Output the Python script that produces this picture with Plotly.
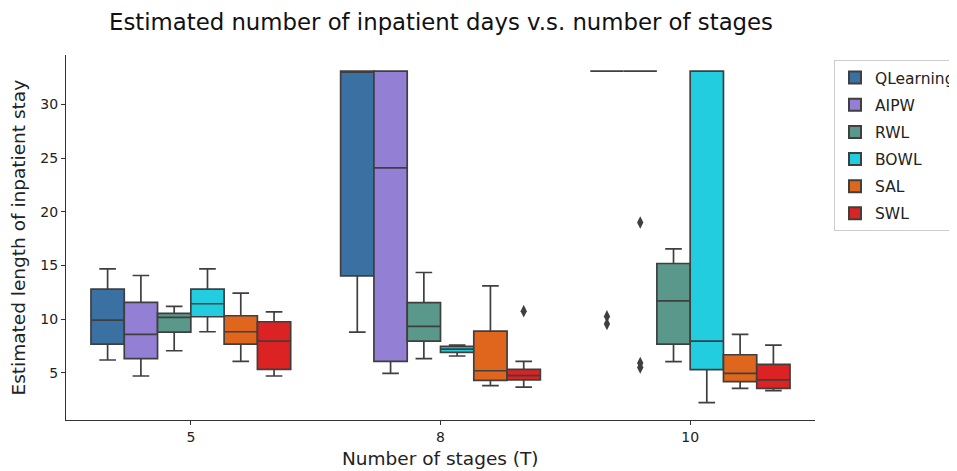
import plotly.graph_objects as go

stages = ["5", "8", "10"]
methods = ["QLearning", "AIPW", "RWL", "BOWL", "SAL", "SWL"]
colors = ["#3b70a3", "#9380d4", "#5a988c", "#22cde0", "#e0661e", "#dc2222"]

# per method: lists over stages [5, 8, 10]
lower = {
    "QLearning": [6.19, 8.79, 33.1],
    "AIPW": [4.70, 4.95, 33.1],
    "RWL": [7.05, 6.31, 6.04],
    "BOWL": [8.82, 6.56, 2.22],
    "SAL": [6.06, 3.80, 3.55],
    "SWL": [4.70, 3.67, 3.33],
}
q1 = {
    "QLearning": [7.67, 14.03, 33.1],
    "AIPW": [6.31, 6.06, 33.1],
    "RWL": [8.79, 7.95, 7.67],
    "BOWL": [10.22, 6.90, 5.29],
    "SAL": [7.67, 4.29, 4.17],
    "SWL": [5.32, 4.33, 3.55],
}
median = {
    "QLearning": [9.91, 33.1, 33.1],
    "AIPW": [8.57, 24.08, 33.1],
    "RWL": [10.16, 9.32, 11.7],
    "BOWL": [11.43, 7.21, 7.95],
    "SAL": [8.82, 5.19, 4.95],
    "SWL": [7.95, 4.73, 4.33],
}
q3 = {
    "QLearning": [12.79, 33.1, 33.1],
    "AIPW": [11.55, 33.1, 33.1],
    "RWL": [10.53, 11.53, 15.18],
    "BOWL": [12.79, 7.46, 33.1],
    "SAL": [10.31, 8.88, 6.68],
    "SWL": [9.75, 5.32, 5.79],
}
upper = {
    "QLearning": [14.68, 33.1, 33.1],
    "AIPW": [14.06, 33.1, 33.1],
    "RWL": [11.18, 14.34, 16.54],
    "BOWL": [14.68, 7.58, 33.1],
    "SAL": [12.42, 13.10, 8.57],
    "SWL": [10.68, 6.06, 7.58],
}
# outliers: (method, stage index, values)
outliers = [
    ("SWL", 1, [10.74]),
    ("QLearning", 2, [10.25, 9.55]),
    ("AIPW", 2, [19.0, 5.9, 5.5]),
]

n = len(methods)
group_width = 0.8
bw = group_width / n


def pos(stage_idx, m_idx):
    return stage_idx - group_width / 2 + bw * (m_idx + 0.5)


fig = go.Figure()
edge = "#3f3f3f"
for mi, m in enumerate(methods):
    xs = [pos(si, mi) for si in range(len(stages))]
    fig.add_trace(go.Box(
        name=m,
        x=xs,
        q1=q1[m], median=median[m], q3=q3[m],
        lowerfence=lower[m], upperfence=upper[m],
        width=bw,
        whiskerwidth=0.5,
        fillcolor=colors[mi],
        line=dict(color=edge, width=1.7),
        boxpoints=False,
        hoverinfo="y",
        showlegend=True,
        legendgroup=m,
    ))

for m, si, vals in outliers:
    mi = methods.index(m)
    fig.add_trace(go.Scatter(
        x=[pos(si, mi)] * len(vals), y=vals,
        mode="markers",
        marker=dict(symbol="diamond-tall", size=9, color=edge),
        showlegend=False, legendgroup=m, hoverinfo="y",
    ))

# page body adds an 8px offset; lay out in figure coordinates
OFF = 8
W, H = 957 - OFF, 471 - OFF
L, T = 66 - OFF, 55 - OFF
PR, PB = 815 - OFF, 420 - OFF
R, B = W - PR, H - PB
pw, ph = PR - L, PB - T

font = "DejaVu Sans, Liberation Sans, sans-serif"
fig.update_layout(
    width=W, height=H,
    margin=dict(l=L, r=R, t=T, b=B, autoexpand=False),
    paper_bgcolor="white", plot_bgcolor="white",
    font=dict(family=font, size=14, color="#222222"),
    title=dict(text="Estimated number of inpatient days v.s. number of stages",
               x=(441 - OFF) / W, xanchor="center", y=1 - (22 - OFF) / H, yanchor="middle",
               font=dict(size=22.8, color="#111111")),
    xaxis=dict(
        range=[-0.5, 2.5], tickvals=[0, 1, 2], ticktext=stages, automargin=False,
        showgrid=False, zeroline=False, showline=True, linecolor="#333333", linewidth=1.2,
        ticks="outside", ticklen=4, tickcolor="#333333",
    ),
    yaxis=dict(
        range=[0.6, 34.6], tickvals=[5, 10, 15, 20, 25, 30], automargin=False,
        showgrid=False, zeroline=False, showline=True, linecolor="#333333", linewidth=1.2,
        ticks="outside", ticklen=4, tickcolor="#333333",
    ),
    legend=dict(x=(834 - OFF - L) / pw, y=1 - (60 - OFF - T) / ph,
                xanchor="left", yanchor="top",
                bordercolor="#cccccc", borderwidth=1, font=dict(size=15.5),
                tracegroupgap=4, itemsizing="constant"),
    showlegend=True,
    annotations=[
        dict(text="Number of stages (T)", xref="paper", yref="paper",
             x=0.5, y=1 - (459 - OFF - T) / ph, xanchor="center", yanchor="middle",
             showarrow=False, font=dict(size=18.5, color="#222222")),
        dict(text="Estimated length of inpatient stay", xref="paper", yref="paper",
             x=(18 - OFF - L) / pw, y=0.5, xanchor="center", yanchor="middle",
             textangle=-90, showarrow=False, font=dict(size=18.5, color="#222222")),
    ],
)

fig.write_html("out.html")
